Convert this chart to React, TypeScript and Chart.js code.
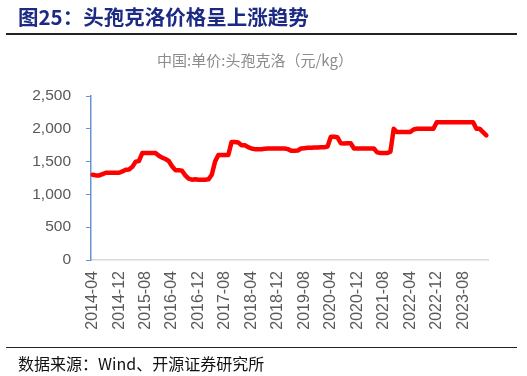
import React, { useEffect, useRef } from "react";
import { Chart, registerables } from "chart.js";

Chart.register(...registerables);

const TITLE = "图25：头孢克洛价格呈上涨趋势";
const SUBTITLE = "中国:单价:头孢克洛（元/kg）";
const SOURCE = "数据来源：Wind、开源证券研究所";

function buildMonths(startY: number, startM: number, n: number): string[] {
  const out: string[] = [];
  let y = startY;
  let m = startM;
  for (let i = 0; i < n; i++) {
    out.push(`${y}-${String(m).padStart(2, "0")}`);
    m++;
    if (m > 12) {
      m = 1;
      y++;
    }
  }
  return out;
}

const prices: number[] = [
  1300, 1290, 1290, 1310, 1330, 1330, 1330, 1330, 1330, 1350,
  1375, 1380, 1420, 1500, 1510, 1630, 1630, 1630, 1630, 1630,
  1590, 1560, 1540, 1510, 1430, 1370, 1370, 1360, 1290, 1240,
  1225, 1230, 1225, 1225, 1225, 1230, 1300, 1500, 1600, 1600,
  1600, 1600, 1800, 1800, 1790, 1750, 1750, 1720, 1700, 1690,
  1690, 1690, 1695, 1700, 1700, 1700, 1700, 1700, 1700, 1690,
  1665, 1665, 1670, 1700, 1705, 1710, 1710, 1715, 1715, 1720,
  1720, 1730, 1880, 1880, 1870, 1780, 1775, 1780, 1780, 1700,
  1700, 1700, 1700, 1700, 1700, 1700, 1640, 1630, 1630, 1630,
  1650, 2000, 1950, 1950, 1950, 1950, 1950, 1990, 2000, 2000,
  2000, 2000, 2000, 2000, 2100, 2100, 2100, 2100, 2100, 2100,
  2100, 2100, 2100, 2100, 2100, 2100, 2000, 2000, 1950, 1900,
];

const months: string[] = buildMonths(2014, 4, prices.length);
const LABEL_EVERY = 8;
const yTicks = { min: 0, max: 2500, step: 500 };

export default function App() {
  const ref = useRef<HTMLCanvasElement | null>(null);

  useEffect(() => {
    if (!ref.current) return;
    const chart = new Chart(ref.current, {
      type: "line",
      data: {
        labels: months,
        datasets: [
          {
            data: prices,
            borderColor: "#FF0000",
            borderWidth: 4.5,
            pointRadius: 0,
            tension: 0,
            borderJoinStyle: "round",
            borderCapStyle: "round",
            fill: false,
          },
        ],
      },
      options: {
        animation: false,
        responsive: false,
        maintainAspectRatio: false,
        layout: { padding: { top: 96, left: 0, right: 39, bottom: 0 } },
        plugins: {
          legend: { display: false },
          title: { display: false },
          tooltip: { enabled: false },
        },
        scales: {
          x: {
            offset: true,
            afterFit: (s: any) => {
              s.height = 116;
            },
            grid: { display: false, drawTicks: false },
            border: { display: true, color: "#D9D9D9", width: 1.5 },
            ticks: {
              autoSkip: false,
              maxRotation: 90,
              minRotation: 90,
              padding: 11,
              color: "#595959",
              font: { family: "'Liberation Sans', Arial, sans-serif", size: 16 },
              callback: (_v: any, i: number) => (i % LABEL_EVERY === 0 ? months[i] : ""),
            },
          },
          y: {
            min: yTicks.min,
            max: yTicks.max,
            afterFit: (s: any) => {
              s.width = 91;
            },
            grid: {
              display: true,
              drawOnChartArea: false,
              drawTicks: true,
              tickLength: 5,
              color: "#6A95CC",
            },
            border: { display: true, color: "#6A95CC", width: 1.5 },
            ticks: {
              stepSize: yTicks.step,
              padding: 15,
              color: "#595959",
              font: { family: "'Liberation Sans', Arial, sans-serif", size: 15.5 },
              callback: (v: any) => Number(v).toLocaleString("en-US"),
            },
          },
        },
      },
    });
    return () => chart.destroy();
  }, []);

  return (
    <div
      style={{
        position: "fixed",
        left: 0,
        top: 0,
        width: 527,
        height: 376,
        background: "#fff",
        overflow: "hidden",
      }}
    >
      <canvas
        ref={ref}
        width={527}
        height={376}
        style={{ position: "absolute", left: 0, top: 0, width: 527, height: 376 }}
      />
      <div
        style={{
          position: "absolute",
          left: 18,
          top: 3,
          fontFamily: "'Noto Sans CJK SC', sans-serif",
          fontWeight: 700,
          fontSize: 20.5,
          lineHeight: "26px",
          color: "#1C2A84",
          whiteSpace: "nowrap",
        }}
      >
        {TITLE}
      </div>
      <div
        style={{
          position: "absolute",
          left: 6,
          top: 33,
          width: 511,
          height: 1.5,
          background: "#222",
        }}
      />
      <div
        style={{
          position: "absolute",
          left: 0,
          width: 510,
          top: 50,
          textAlign: "center",
          fontFamily: "'Noto Sans CJK SC', sans-serif",
          fontSize: 15,
          lineHeight: "20px",
          color: "#8C8C8C",
          whiteSpace: "nowrap",
        }}
      >
        {SUBTITLE}
      </div>
      <div
        style={{
          position: "absolute",
          left: 6,
          top: 346.5,
          width: 511,
          height: 1.5,
          background: "#222",
        }}
      />
      <div
        style={{
          position: "absolute",
          left: 18,
          top: 352,
          fontFamily: "'Noto Sans CJK SC', sans-serif",
          fontSize: 16,
          lineHeight: "22px",
          color: "#111",
          whiteSpace: "nowrap",
        }}
      >
        {SOURCE}
      </div>
    </div>
  );
}
